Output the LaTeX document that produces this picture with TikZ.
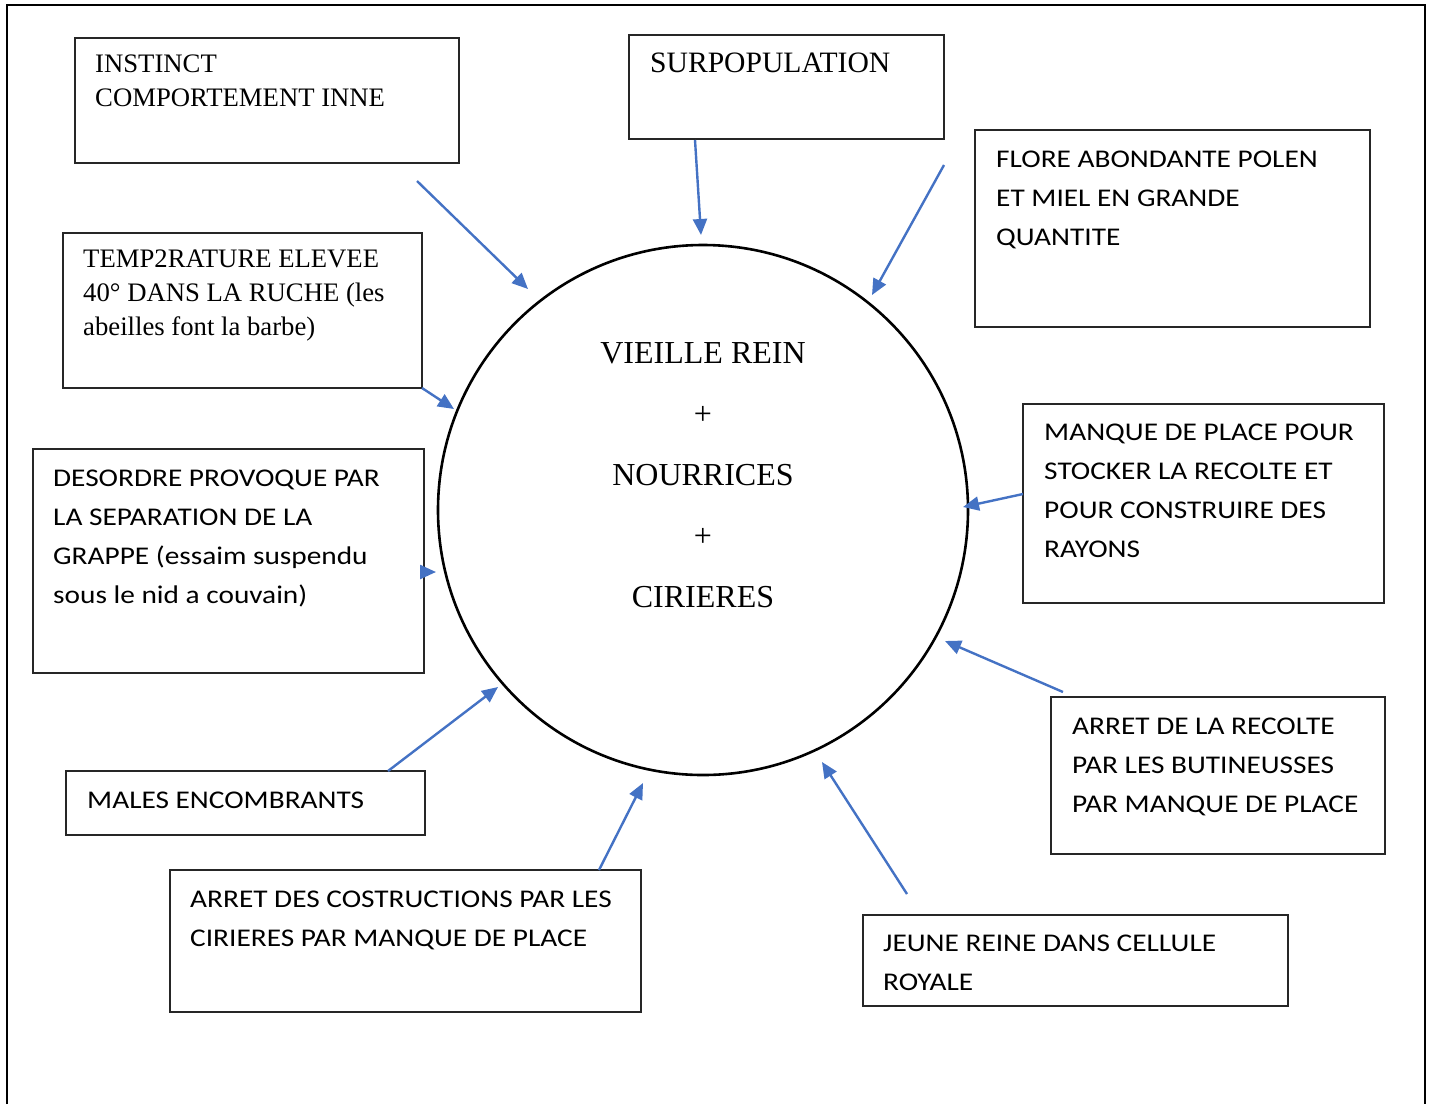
\documentclass[tikz,border=0pt]{standalone}
\usepackage{fontspec}
\newfontfamily\serifF{Liberation Serif}
\newfontfamily\sansF[FakeStretch=1.15]{Carlito}
\usetikzlibrary{arrows.meta,calc}
\definecolor{arrowblue}{HTML}{4472C4}
\begin{document}
\begin{tikzpicture}[x=1pt,y=-1pt,
  box/.style={draw=black!85, line width=1.3pt, inner sep=0pt, outer sep=0pt, anchor=north west},
  stxt/.style={anchor=base west, align=left, inner sep=0pt, font=\serifF\fontsize{26.7}{33.7}\selectfont},
  atxt/.style={anchor=base west, align=left, inner sep=0pt, font=\sansF\fontsize{25.5}{38.7}\selectfont},
  ctxt/.style={anchor=base, inner sep=0pt, font=\serifF\fontsize{32}{36}\selectfont},
  arr/.style={draw=arrowblue, line width=2.4pt, -{Triangle[length=16pt,width=14pt]}}]
\useasboundingbox (0,0) rectangle (1431,1104);
% outer frame (open at bottom)
\draw[line width=2pt] (7,1104) -- (7,5) -- (1425,5) -- (1425,1104);
% central circle
\node[circle, draw, line width=2.6pt, minimum size=530pt, inner sep=0pt] (c) at (703,510) {};
\node[ctxt] (t1) at (703,363) {VIEILLE REIN};
\node[ctxt] (t2) at (703,424) {+};
\node[ctxt] (t3) at (703,485) {NOURRICES};
\node[ctxt] (t4) at (703,546) {+};
\node[ctxt] (t5) at (703,607) {CIRIERES};
% boxes (text nodes are placed by the baseline of their last line)
\node[box, minimum width=384pt, minimum height=125pt] (b1) at (75,38) {};
\node[stxt] (b1t) at (95,106) {INSTINCT\\COMPORTEMENT INNE};
\node[box, minimum width=359pt, minimum height=155pt] (b2) at (63,233) {};
\node[stxt] (b2t) at (83,335) {TEMP2RATURE ELEVEE\\40° DANS LA RUCHE (les\\abeilles font la barbe)};
\node[box, minimum width=315pt, minimum height=104pt] (b3) at (629,35) {};
\node[stxt, font=\serifF\fontsize{29.6}{34}\selectfont] (b3t) at (650,72) {SURPOPULATION};
\node[box, minimum width=395pt, minimum height=197pt] (b4) at (975,130) {};
\node[atxt] (b4t) at (996,245) {FLORE ABONDANTE POLEN\\ET MIEL EN GRANDE\\QUANTITE};
\node[box, minimum width=361pt, minimum height=199pt] (b5) at (1023,404) {};
\node[atxt] (b5t) at (1044,557) {MANQUE DE PLACE POUR\\STOCKER LA RECOLTE ET\\POUR CONSTRUIRE DES\\RAYONS};
\node[box, minimum width=391pt, minimum height=224pt] (b6) at (33,449) {};
\node[atxt] (b6t) at (53,603) {DESORDRE PROVOQUE PAR\\LA SEPARATION DE LA\\GRAPPE (essaim suspendu\\sous le nid a couvain)};
\node[box, minimum width=334pt, minimum height=157pt] (b7) at (1051,697) {};
\node[atxt] (b7t) at (1072,812) {ARRET DE LA RECOLTE\\PAR LES BUTINEUSSES\\PAR MANQUE DE PLACE};
\node[box, minimum width=359pt, minimum height=64pt] (b8) at (66,771) {};
\node[atxt] (b8t) at (87,808) {MALES ENCOMBRANTS};
\node[box, minimum width=471pt, minimum height=142pt] (b9) at (170,870) {};
\node[atxt] (b9t) at (190,946) {ARRET DES COSTRUCTIONS PAR LES\\CIRIERES PAR MANQUE DE PLACE};
\node[box, minimum width=425pt, minimum height=91pt] (b10) at (863,915) {};
\node[atxt] (b10t) at (883,990) {JEUNE REINE DANS CELLULE\\ROYALE};
% arrow end points
\coordinate (s1) at (417,181);  \coordinate (e1) at (528,289);
\coordinate (s3) at (695,140);  \coordinate (e3) at (701,235);
\coordinate (s4) at (944,165);  \coordinate (e4) at (872,295);
\coordinate (e2) at (454,409);
\coordinate (e6) at (436,572);
\coordinate (e5) at (963,507);
\coordinate (s7) at (1063,692); \coordinate (e7) at (945,641);
\coordinate (s10) at (907,894); \coordinate (e10) at (822,762);
\coordinate (e9) at (643,783);
\coordinate (e8) at (498,687);
% arrows
\draw[arr] (s1) -- (e1);
\draw[arr] (s3) -- (e3);
\draw[arr] (s4) -- (e4);
\draw[arr] (b2.south east) -- (e2);
\draw[arr] (b6.east |- e6) -- (e6);
\draw[arr] (b5.west |- 0,494) -- (e5);
\draw[arr] (s7) -- (e7);
\draw[arr] (s10) -- (e10);
\draw[arr] (b9.north -| 599,0) -- (e9);
\draw[arr] (b8.north -| 388,0) -- (e8);
\end{tikzpicture}
\end{document}
